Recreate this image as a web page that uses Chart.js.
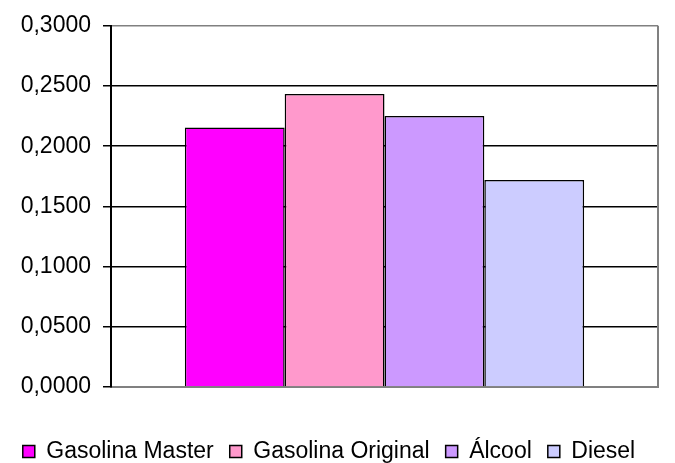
<!DOCTYPE html>
<html>
<head>
<meta charset="utf-8">
<script src="https://cdn.jsdelivr.net/npm/chart.js@4/dist/chart.umd.min.js"></script>
<style>
  html, body { margin: 0; padding: 0; background: #fff; }
  #wrap { width: 675px; height: 463px; }
</style>
</head>
<body>
<div id="wrap"><canvas id="chart"></canvas></div>
<script>
// Data
const categories = [''];
const seriesNames = ['Gasolina Master', 'Gasolina Original', 'Álcool', 'Diesel'];
const seriesValues = [0.2155, 0.2434, 0.2251, 0.1720];
const seriesColors = ['#FF00FF', '#FF99CC', '#CC99FF', '#CCCCFF'];
const yTicks = [0, 0.05, 0.1, 0.15, 0.2, 0.25, 0.3];

const fontFamily = 'Arial, "Liberation Sans", sans-serif';

// gray border on the right side of the plot area
const plotBorder = {
  id: 'plotBorder',
  afterDraw(chart) {
    const { ctx, chartArea: a } = chart;
    ctx.save();
    ctx.strokeStyle = '#808080';
    ctx.lineWidth = 2;
    ctx.beginPath();
    ctx.moveTo(a.right, a.top);
    ctx.lineTo(a.right, a.bottom);
    ctx.stroke();
    ctx.restore();
  }
};

const datasets = seriesNames.map((name, i) => ({
  label: name,
  data: [seriesValues[i]],
  backgroundColor: seriesColors[i],
  borderColor: '#000',
  borderWidth: 1.5,
  categoryPercentage: 0.73,
  barPercentage: 1.0,
}));

new Chart(document.getElementById('chart'), {
  type: 'bar',
  data: { labels: categories, datasets },
  options: {
    responsive: true,
    maintainAspectRatio: false,
    animation: false,
    layout: { padding: { top: 25, right: 17, left: 0, bottom: -10 } },
    scales: {
      x: {
        ticks: { display: false },
        grid: { display: false },
        border: { color: '#808080', width: 2 },
        afterFit: (s) => { s.height = 37; },
      },
      y: {
        min: 0,
        max: 0.3,
        afterBuildTicks: (s) => { s.ticks = yTicks.map((v) => ({ value: v })); },
        afterFit: (s) => { s.width = 111; },
        ticks: {
          color: '#000',
          font: { family: fontFamily, size: 23 },
          padding: 12,
          callback: (v) => v.toFixed(4).replace('.', ','),
        },
        grid: {
          color: (c) => (c.index === yTicks.length - 1 ? '#808080' : '#000'),
          lineWidth: 1.5,
          tickLength: 8,
          tickColor: '#000',
        },
        border: { color: '#000', width: 2 },
      },
    },
    plugins: {
      legend: {
        position: 'bottom',
        labels: {
          color: '#000',
          font: { family: fontFamily, size: 23 },
          boxWidth: 12,
          boxHeight: 12,
          padding: 16,
        },
      },
      tooltip: { enabled: false },
    },
  },
  plugins: [plotBorder],
});
</script>
</body>
</html>
